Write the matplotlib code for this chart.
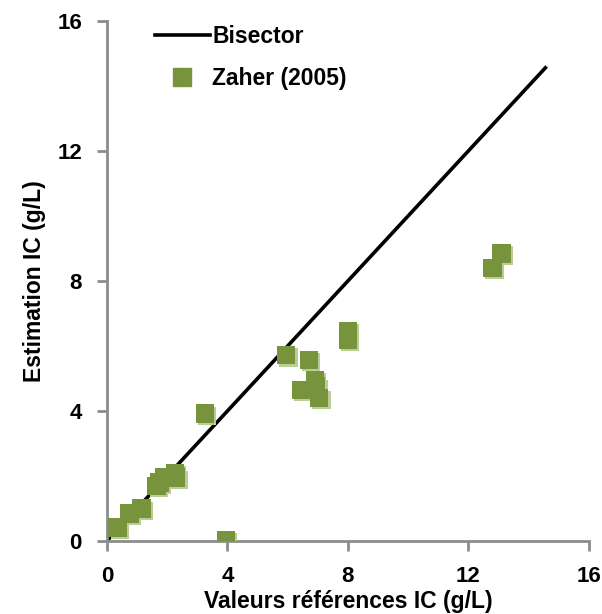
import matplotlib
matplotlib.use("Agg")
import matplotlib.pyplot as plt
import matplotlib.patheffects as pe
from matplotlib.lines import Line2D

plt.rcParams['font.family'] = ['Liberation Sans', 'DejaVu Sans']
plt.rcParams['font.weight'] = 'bold'

# Data
ref_vals = [0.35, 0.75, 1.15, 1.65, 1.75, 1.9, 2.25, 2.3, 3.25, 3.95, 5.95, 6.7, 6.45, 6.9, 6.95, 7.05, 8.0, 8.0, 12.8, 13.1]
est_vals = [0.42, 0.85, 1.0, 1.7, 1.8, 1.95, 2.1, 1.95, 3.92, 0.02, 5.72, 5.57, 4.65, 4.95, 4.75, 4.4, 6.45, 6.2, 8.4, 8.85]
bisector_x = [0, 14.6]
bisector_y = [0, 14.6]
ticks = [0, 4, 8, 12, 16]

fig = plt.figure(figsize=(6.02, 6.14), dpi=100)
ax = fig.add_axes([0.1777, 0.1189, 0.8003, 0.8469])

gray = '#8C8C8C'
green = '#77933C'
shadow = '#B9CD96'

ax.plot(bisector_x, bisector_y, color='black', lw=2.6, solid_capstyle='butt', zorder=2)
ax.scatter(ref_vals, est_vals, marker='s', s=175, color=green, edgecolors='none', zorder=3,
           path_effects=[pe.SimplePatchShadow(offset=(1.6, -1.6), shadow_rgbFace=shadow, alpha=1.0), pe.Normal()])

ax.set_xlim(0, 16)
ax.set_ylim(0, 16)
ax.set_xticks(ticks)
ax.set_yticks(ticks)
for s in ['top', 'right']:
    ax.spines[s].set_visible(False)
for s in ['left', 'bottom']:
    ax.spines[s].set_color(gray)
    ax.spines[s].set_linewidth(2)
ax.tick_params(axis='both', colors=gray, width=2, length=7, direction='out', labelsize=16, labelcolor='black', pad=11)
for lab in ax.get_xticklabels() + ax.get_yticklabels():
    lab.set_fontweight('bold')

ax.set_xlabel('Valeurs références IC (g/L)', fontsize=16.5, fontweight='bold', labelpad=2)
ax.set_ylabel('Estimation IC (g/L)', fontsize=16.5, fontweight='bold', labelpad=8)

handles = [Line2D([0], [0], color='black', lw=2.6),
           Line2D([0], [0], marker='s', color=green, lw=0, markersize=12.5)]
leg = ax.legend(handles, ['Bisector', 'Zaher (2005)'], loc='upper left', bbox_to_anchor=(0.0996, 0.992),
                frameon=False, handlelength=2.4, handletextpad=0.1, labelspacing=0.84,
                borderaxespad=0, borderpad=0, prop={'weight': 'bold', 'size': 16.5})

fig.savefig('out.png', dpi=100)
